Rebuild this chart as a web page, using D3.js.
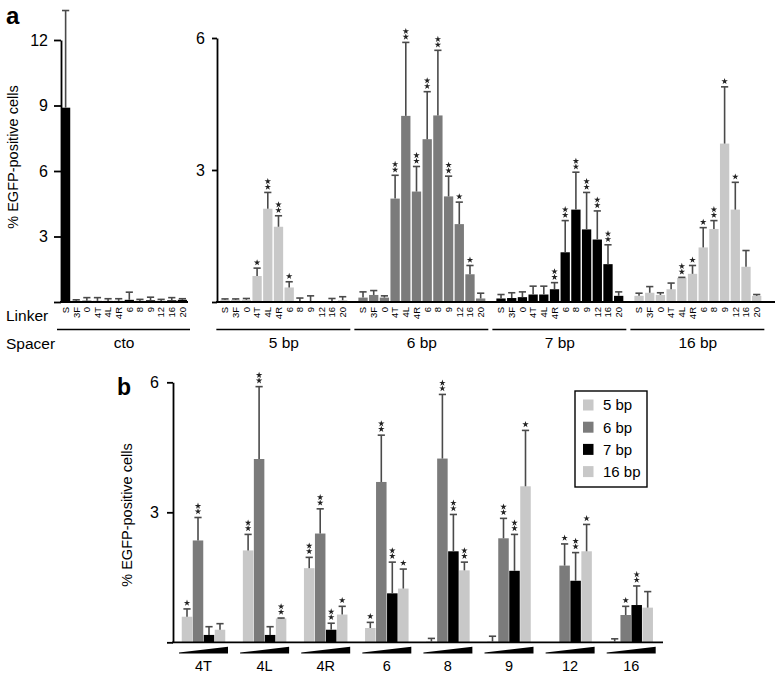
<!DOCTYPE html>
<html><head><meta charset="utf-8">
<script src="https://cdn.jsdelivr.net/npm/d3@7"></script>
<style>body{margin:0;background:#fff} svg text{font-family:"Liberation Sans",Arial,Helvetica,sans-serif;fill:#000}</style>
</head><body><svg id="c" width="777" height="678"></svg>
<script>
// ---------- data ----------
const linkers = ["S","3F","0","4T","4L","4R","6","8","9","12","16","20"];
const spacersA = ["5 bp","6 bp","7 bp","16 bp"];
const linkersB = ["4T","4L","4R","6","8","9","12","16"];

const ctoMean = [8.9,0.05,0.06,0.05,0.05,0.05,0.1,0.05,0.08,0.05,0.08,0.1];
const ctoSd   = [4.45,0.05,0.14,0.15,0.1,0.1,0.35,0.07,0.14,0.07,0.12,0.05];
const ctoStars= [0,0,0,0,0,0,0,0,0,0,0,0];

const bp5Mean = [0.05,0.05,0.05,0.59,2.12,1.71,0.33,0.02,0.02,0,0.02,0.04];
const bp5Sd   = [0.02,0.02,0.03,0.18,0.37,0.25,0.13,0.07,0.12,0,0.06,0.08];
const bp5Stars= [0,0,0,1,2,2,1,0,0,0,0,0];

const bp6Mean = [0.1,0.16,0.1,2.35,4.23,2.51,3.7,4.24,2.4,1.77,0.63,0.08];
const bp6Sd   = [0.13,0.1,0.04,0.53,1.67,0.57,1.08,1.48,0.46,0.5,0.2,0.12];
const bp6Stars= [0,0,0,2,2,2,2,2,2,1,1,0];

const bp7Mean = [0.08,0.09,0.11,0.17,0.17,0.29,1.13,2.1,1.65,1.42,0.86,0.14];
const bp7Sd   = [0.09,0.12,0.12,0.19,0.19,0.15,0.72,0.85,0.84,0.65,0.44,0.09];
const bp7Stars= [0,0,0,0,0,2,2,2,2,2,2,0];

const bp16Mean = [0.14,0.21,0.16,0.29,0.55,0.64,1.24,1.66,3.6,2.1,0.8,0.14];
const bp16Sd   = [0.06,0.14,0.05,0.14,0.01,0.19,0.45,0.19,1.29,0.62,0.37,0.03];
const bp16Stars= [0,0,0,0,2,1,1,2,1,1,0,0];

const ticksA1 = [0,3,6,9,12];
const ticksA2 = [0,3,6];
const ticksB = [0,3,6];

// ---------- setup ----------
const colors = {"cto":"#000000","5 bp":"#c8c8c8","6 bp":"#7b7b7b","7 bp":"#000000","16 bp":"#c8c8c8"};
const series = {
  "cto":  {mean:ctoMean, sd:ctoSd, stars:ctoStars},
  "5 bp": {mean:bp5Mean, sd:bp5Sd, stars:bp5Stars},
  "6 bp": {mean:bp6Mean, sd:bp6Sd, stars:bp6Stars},
  "7 bp": {mean:bp7Mean, sd:bp7Sd, stars:bp7Stars},
  "16 bp":{mean:bp16Mean, sd:bp16Sd, stars:bp16Stars}
};
const svg = d3.select("#c");
const errColor = "#4a4a4a";
const star = d3.symbol().type(d3.symbolStar).size(13);

function drawBar(g, cx, bw, y, mean, sd, nStars, color, starGap) {
  const y0 = y(0);
  if (mean > 0) {
    g.append("rect").attr("x", cx - bw/2).attr("width", bw)
      .attr("y", y(mean)).attr("height", y0 - y(mean)).attr("fill", color);
  }
  if (sd > 0) {
    const yt = y(mean + sd);
    g.append("line").attr("x1", cx).attr("x2", cx).attr("y1", y(mean)).attr("y2", yt)
      .attr("stroke", errColor).attr("stroke-width", 1.6);
    g.append("line").attr("x1", cx - 3.6).attr("x2", cx + 3.6).attr("y1", yt).attr("y2", yt)
      .attr("stroke", errColor).attr("stroke-width", 1.6);
  }
  const top = y(mean + sd);
  for (let k = 0; k < nStars; k++) {
    g.append("path").attr("d", star)
      .attr("transform", `translate(${cx},${top - starGap[0] - starGap[1]*k})`)
      .attr("fill", "#222");
  }
}

// ---------- panel a ----------
const yA1 = d3.scaleLinear().domain([0,12]).range([302,40]);
const yA2 = d3.scaleLinear().domain([0,6]).range([302,38]);
const xCto = d3.scaleBand().domain(linkers).range([61,187]).paddingInner(0.13).paddingOuter(0);
const xOuter = d3.scaleBand().domain(spacersA).range([220.35,761.35]).paddingInner(0.08).paddingOuter(0);
const xInner = d3.scaleBand().domain(linkers).range([0, xOuter.bandwidth()]).paddingInner(0.13).paddingOuter(0);

const gA = svg.append("g");
// cto bars
linkers.forEach((l,i) => {
  const s = series["cto"];
  drawBar(gA, xCto(l) + xCto.bandwidth()/2, xCto.bandwidth(), yA1, s.mean[i], s.sd[i], s.stars[i], colors["cto"], [5.5,5.6]);
});
spacersA.forEach(sp => {
  const s = series[sp];
  linkers.forEach((l,i) => {
    const cx = xOuter(sp) + xInner(l) + xInner.bandwidth()/2;
    drawBar(gA, cx, xInner.bandwidth(), yA2, s.mean[i], s.sd[i], s.stars[i], colors[sp], [5.5,5.6]);
  });
});

// axes panel a
const axA1 = gA.append("g").attr("transform","translate(61,0)")
  .call(d3.axisLeft(yA1).tickValues(ticksA1).tickSize(7).tickPadding(6).tickSizeOuter(0)
    .tickFormat(d => d === 0 ? "" : d));
const axA2 = gA.append("g").attr("transform","translate(217,0)")
  .call(d3.axisLeft(yA2).tickValues(ticksA2).tickSize(5).tickPadding(7).tickSizeOuter(0)
    .tickFormat(d => d === 0 ? "" : d));
[axA1, axA2].forEach(ax => {
  ax.selectAll("path,line").attr("stroke","#000").attr("stroke-width",1.8);
  ax.selectAll("text").style("font-size","16px").attr("fill","#000");
});
// baselines
gA.append("line").attr("x1",60).attr("x2",188).attr("y1",302).attr("y2",302).attr("stroke","#000").attr("stroke-width",1.8);
gA.append("line").attr("x1",216).attr("x2",775).attr("y1",302).attr("y2",302).attr("stroke","#000").attr("stroke-width",1.8);

// linker labels
function linkerLabels(cxFn) {
  linkers.forEach(l => {
    gA.append("text").text(l)
      .attr("transform", `translate(${cxFn(l)},307) rotate(-90)`)
      .attr("text-anchor","end").attr("dy","0.35em")
      .style("font-size","9.5px");
  });
}
linkerLabels(l => xCto(l) + xCto.bandwidth()/2);
spacersA.forEach(sp => linkerLabels(l => xOuter(sp) + xInner(l) + xInner.bandwidth()/2));

// spacer lines + labels
const spacerGroups = [{name:"cto", x0: xCto(linkers[0]), x1: xCto(linkers[11]) + xCto.bandwidth()}]
  .concat(spacersA.map(sp => ({name:sp, x0: xOuter(sp), x1: xOuter(sp) + xOuter.bandwidth()})));
spacerGroups.forEach(gp => {
  gA.append("line").attr("x1", gp.x0 - 4).attr("x2", gp.x1 + 3).attr("y1",329.5).attr("y2",329.5)
    .attr("stroke","#000").attr("stroke-width",1.4);
  gA.append("text").text(gp.name).attr("x",(gp.x0 + gp.x1)/2).attr("y",348)
    .attr("text-anchor","middle").style("font-size","15.5px");
});
gA.append("text").text("Linker").attr("x",6).attr("y",321).style("font-size","15.5px");
gA.append("text").text("Spacer").attr("x",6).attr("y",348.5).style("font-size","15.5px");
gA.append("text").text("% EGFP-positive cells").attr("transform","translate(18,157) rotate(-90)")
  .attr("text-anchor","middle").style("font-size","14.5px");
gA.append("text").text("a").attr("x",6).attr("y",24).style("font-size","24px").style("font-weight","bold");

// ---------- panel b ----------
const gB = svg.append("g");
const yB = d3.scaleLinear().domain([0,6]).range([642.3,382.3]);
const xB = d3.scaleBand().domain(linkersB).range([181.75,652.95]).paddingInner(0.288).paddingOuter(0);
const xBi = d3.scaleBand().domain(spacersA).range([0, xB.bandwidth()]).paddingInner(0.045).paddingOuter(0);

linkersB.forEach(l => {
  const i = linkers.indexOf(l);
  spacersA.forEach(sp => {
    const s = series[sp];
    const cx = xB(l) + xBi(sp) + xBi.bandwidth()/2;
    drawBar(gB, cx, xBi.bandwidth(), yB, s.mean[i], s.sd[i], s.stars[i], colors[sp], [6,5.5]);
  });
  const c = xB(l) + xB.bandwidth()/2;
  gB.append("path")
    .attr("d", `M${c-24.5},652.6 L${c+24.5},646.8 L${c+24.5},653.6 L${c-24.5},653.6 Z`)
    .attr("fill","#000");
  gB.append("text").text(l).attr("x", c).attr("y", 670.5).attr("text-anchor","middle").style("font-size","14.5px");
});
const axB = gB.append("g").attr("transform","translate(173,0)")
  .call(d3.axisLeft(yB).tickValues(ticksB).tickSize(6).tickPadding(8).tickSizeOuter(0)
    .tickFormat(d => d === 0 ? "" : d));
axB.selectAll("path,line").attr("stroke","#000").attr("stroke-width",1.8);
axB.selectAll("text").style("font-size","16px").attr("fill","#000");
gB.append("line").attr("x1",172).attr("x2",663).attr("y1",642.3).attr("y2",642.3).attr("stroke","#000").attr("stroke-width",1.8);
gB.append("text").text("% EGFP-positive cells").attr("transform","translate(132,515) rotate(-90)")
  .attr("text-anchor","middle").style("font-size","14.5px");
gB.append("text").text("b").attr("x",117).attr("y",395).style("font-size","23px").style("font-weight","bold");

// legend
const lg = gB.append("g");
lg.append("rect").attr("x",575).attr("y",391).attr("width",72).attr("height",96)
  .attr("fill","#fff").attr("stroke","#000").attr("stroke-width",1.4);
spacersA.forEach((sp,k) => {
  const cy = 405 + k*22.2;
  lg.append("rect").attr("x",583).attr("y",cy-5.5).attr("width",10.5).attr("height",11).attr("fill",colors[sp]);
  lg.append("text").text(sp).attr("x",603).attr("y",cy).attr("dy","0.36em").style("font-size","15px");
});
</script></body></html>
